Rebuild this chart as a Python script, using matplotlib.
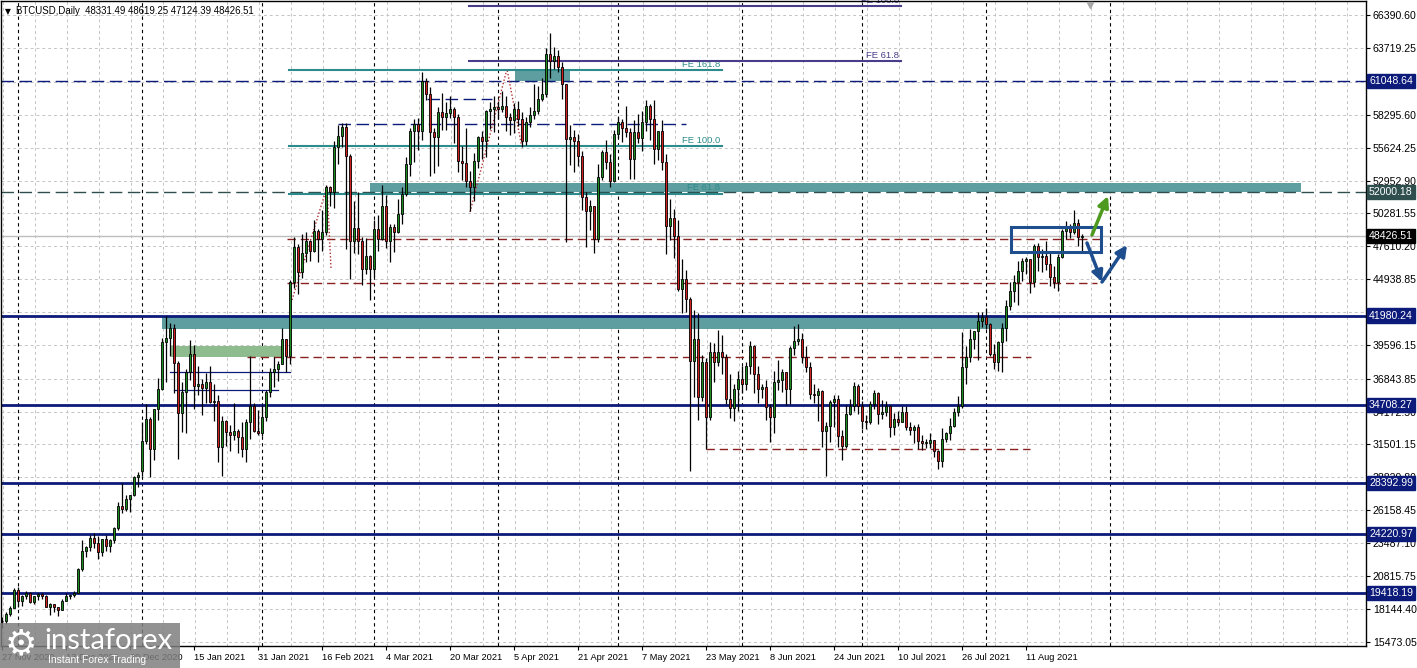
import numpy as np
import matplotlib
matplotlib.use("Agg")
import matplotlib.pyplot as plt
from matplotlib.patches import Rectangle
import matplotlib.transforms as mtransforms

# ---- daily bars (open, high, low, close), 27 Nov 2020 .. 25 Aug 2021, 1 Jan missing ----
nov_2020 = [
    (17150, 17460, 16560, 17110), (17110, 17850, 16900, 17720),
    (17720, 18330, 17530, 18180), (18180, 19860, 18170, 19700),
]
dec_2020 = [
    (19700, 19920, 18320, 18760), (18760, 19300, 18330, 19200), (19200, 19550, 18950, 19440),
    (19440, 19500, 18590, 18700), (18700, 19160, 18510, 19150), (19150, 19420, 18860, 19360),
    (19360, 19390, 18930, 19170), (19170, 19280, 18270, 18320), (18320, 18640, 17650, 18550),
    (18550, 18560, 17910, 18250), (18250, 18280, 17580, 18040), (18040, 18940, 18020, 18800),
    (18800, 19400, 18740, 19140), (19140, 19300, 18920, 19250), (19250, 19560, 19070, 19440),
    (19440, 21450, 19400, 21350), (21350, 23770, 21250, 22800), (22800, 23240, 22380, 23130),
    (23130, 24150, 22860, 23870), (23870, 24280, 23070, 23480), (23480, 24090, 22160, 22720),
    (22720, 23840, 22400, 23820), (23820, 24100, 22800, 23240), (23240, 23780, 22760, 23730),
    (23730, 24790, 23460, 24710), (24710, 26860, 24520, 26490), (26490, 28400, 25960, 26280),
    (26280, 27400, 26100, 27080), (27080, 27370, 25990, 27360), (27360, 28900, 27300, 28840),
    (28840, 29300, 28000, 29000),
]
jan_2021 = [
    (29380, 33300, 28950, 31790), (31790, 34780, 31500, 33570), (33570, 33730, 28860, 31140),
    (31140, 34410, 30220, 34390), (34390, 36880, 33510, 36010), (36010, 40180, 35900, 39830),
    (39830, 41940, 36570, 40150), (40150, 41380, 38720, 40970), (40970, 41300, 35700, 38120),
    (38120, 38260, 30320, 34060), (34060, 36600, 32540, 35770), (35770, 37620, 32400, 37390),
    (37390, 40000, 36700, 38850), (38850, 39580, 34400, 36250), (36250, 37880, 35560, 36400),
    (36400, 36800, 33860, 36100), (36100, 37300, 34860, 36580), (36580, 37850, 34900, 34950),
    (34950, 36400, 33400, 35030), (35030, 35550, 30070, 31300), (31300, 33830, 28950, 33410),
    (33410, 33450, 31390, 32520), (32520, 33070, 30970, 32300), (32300, 34880, 31900, 32600),
    (32600, 32790, 30840, 32100), (32100, 33330, 30440, 31140), (31140, 33580, 30070, 33330),
    (33330, 38690, 31980, 34630), (34630, 34860, 32500, 32600), (32600, 34340, 32250, 32400),
]
feb_2021 = [
    (32400, 34690, 32200, 33730), (33730, 35900, 33440, 35770), (35770, 37700, 35380, 37390),
    (37390, 38620, 36200, 37600), (37600, 38310, 36670, 38040), (38040, 40960, 38000, 40070),
    (40070, 40100, 37400, 38690), (38690, 44900, 38060, 44700), (44700, 48350, 44200, 47540),
    (47540, 47800, 43760, 45510), (45510, 48630, 45000, 47050), (47050, 48790, 46300, 48020),
    (48020, 48100, 46450, 47220), (47220, 49740, 47120, 48840), (48840, 49020, 46370, 48200),
    (48200, 50540, 47230, 48760), (48760, 52560, 48500, 52420), (52420, 52480, 50900, 52010),
    (52010, 56200, 50760, 55670), (55670, 57490, 54300, 56560), (56560, 57620, 55650, 57290),
    (57290, 57620, 47380, 54940), (54940, 55100, 44940, 48030), (48030, 51300, 47060, 49100),
    (49100, 52000, 46960, 48030), (48030, 48370, 44450, 45760), (45760, 48250, 45350, 46820),
    (46820, 46900, 43240, 45760),
]
mar_2021 = [
    (45760, 49780, 45100, 49010), (49010, 50130, 47230, 48200), (48200, 52620, 48150, 50870),
    (50870, 51740, 47500, 48030), (48030, 49390, 46300, 49170), (49170, 49400, 47150, 48760),
    (48760, 51420, 48700, 50230), (50230, 52430, 49420, 51850), (51850, 54900, 51700, 54290),
    (54290, 57260, 53290, 56970), (56970, 57990, 54480, 57540), (57540, 58010, 55430, 56970),
    (56970, 61760, 56220, 61030), (61030, 61300, 59500, 59970), (59970, 60540, 53310, 56890),
    (56890, 57200, 53570, 56480), (56480, 58960, 54150, 58510), (58510, 60110, 57100, 58100),
    (58100, 59370, 57090, 58430), (58430, 59850, 58020, 58760), (58760, 58900, 55980, 58100),
    (58100, 58390, 53690, 54530), (54530, 55740, 53000, 54370), (54370, 57200, 52460, 52910),
    (52910, 53720, 50470, 52420), (52420, 55230, 51300, 54530), (54530, 56600, 53950, 56480),
    (56480, 57000, 54690, 56200), (56200, 58700, 54900, 58590), (58590, 59380, 57150, 58760),
    (58760, 59800, 56870, 58920),
]
apr_2021 = [
    (58920, 59460, 57960, 58760), (58760, 60210, 58500, 59000), (59000, 59790, 56960, 58100),
    (58100, 58480, 56630, 57900), (57900, 59220, 56790, 58760), (58760, 59400, 57350, 57940),
    (57940, 58520, 55660, 56160), (56160, 58110, 55850, 57700), (57700, 58940, 57300, 58300),
    (58300, 60800, 57930, 58590), (58590, 60610, 58400, 59570), (59570, 61300, 59400, 59970),
    (59970, 63750, 59760, 63220), (63220, 64930, 61300, 62650), (62650, 63820, 62030, 63060),
    (63060, 63590, 61800, 62170), (62170, 62580, 59620, 60790), (60790, 60800, 47950, 56320),
    (56320, 57500, 54240, 56500), (56500, 57080, 53610, 56160), (56160, 56760, 54125, 54940),
    (54940, 55370, 50580, 51610), (51610, 52040, 47545, 50470), (50470, 51400, 48910, 50880),
    (50880, 50900, 47050, 48200), (48200, 54330, 47950, 53230), (53230, 55430, 53000, 55260),
    (55260, 56230, 53900, 54450), (54450, 55140, 52400, 52910), (52910, 57100, 52800, 56720),
]
may_2021 = [
    (56720, 58100, 56400, 57700), (57700, 57950, 56080, 57200), (57200, 58980, 56480, 56890),
    (56890, 57210, 53110, 54690), (54690, 57900, 53060, 56890), (56890, 58330, 55980, 56400),
    (56400, 58620, 55350, 57700), (57700, 59490, 56990, 59000), (59000, 59180, 56280, 57940),
    (57940, 59540, 54310, 55500), (55500, 57000, 54620, 56970), (56970, 57900, 53800, 54450),
    (54450, 55100, 46980, 49250), (49250, 51440, 48100, 49880), (49880, 50640, 46660, 48440),
    (48440, 49720, 43960, 44130), (44130, 46540, 42210, 44940), (44940, 45700, 42260, 43320),
    (43320, 43500, 29350, 38280), (38280, 42470, 35350, 40070), (40070, 42200, 33500, 35360),
    (35360, 38780, 35000, 38200), (38200, 38500, 31140, 33740), (33740, 39830, 33500, 39020),
    (39020, 39760, 36580, 38200), (38200, 40800, 37870, 39000), (39000, 40380, 37250, 38600),
    (38600, 38860, 34800, 35200), (35200, 37240, 33680, 34500), (34500, 36400, 33420, 36010),
    (36010, 37470, 34250, 36820),
]
jun_2021 = [
    (36820, 37860, 35700, 36420), (36420, 38200, 35950, 37880), (37880, 39900, 37220, 39500),
    (39500, 39600, 35700, 37230), (37230, 37880, 34850, 36010), (36010, 36450, 35270, 36170),
    (36170, 36780, 33510, 34540), (34540, 34800, 31700, 33740), (33740, 37510, 32400, 36580),
    (36580, 38360, 35960, 36700), (36700, 37610, 35750, 37360), (37360, 37400, 34700, 36010),
    (36010, 39500, 34800, 39340), (39340, 41130, 38800, 39900), (39900, 41300, 39600, 40070),
    (40070, 40520, 38100, 38610), (38610, 39530, 37400, 37790), (37790, 38190, 35200, 35600),
    (35600, 36430, 34850, 35500), (35500, 36080, 33400, 35850), (35850, 35900, 31300, 32600),
    (32600, 33300, 28940, 33000), (33000, 35100, 31700, 34950), (34950, 35500, 32900, 35200),
    (35200, 35500, 31300, 32190), (32190, 32700, 30200, 31380), (31380, 34700, 31200, 34000),
    (34000, 35200, 33900, 34630), (34630, 36550, 34230, 36250), (36250, 36400, 34000, 34630),
]
jul_2021 = [
    (34630, 35040, 32730, 33410), (33410, 33930, 32750, 33300), (33300, 35000, 33200, 34790),
    (34790, 35900, 34400, 35680), (35680, 35800, 33170, 33980), (33980, 35100, 33540, 34100),
    (34100, 35050, 33800, 34600), (34600, 34700, 32100, 32920), (32920, 34080, 32260, 33600),
    (33600, 34250, 33020, 33350), (33350, 34590, 33300, 34130), (34130, 34650, 32700, 32920),
    (32920, 33330, 32250, 32700), (32700, 33090, 31600, 32950), (32950, 33160, 31150, 31780),
    (31780, 32230, 31050, 31600), (31600, 31940, 31200, 31650), (31650, 32400, 31220, 31850),
    (31850, 31880, 30440, 30970), (30970, 31040, 29510, 30160), (30160, 32820, 29700, 31950),
    (31950, 32530, 31730, 32400), (32400, 33620, 31840, 33000), (33000, 34460, 32900, 34140),
    (34140, 35400, 33850, 34630), (34630, 40640, 34500, 37790), (37790, 39500, 36400, 38600),
    (38600, 40880, 38200, 40070), (40070, 40600, 39270, 40720), (40720, 42290, 38350, 41530),
    (41530, 42300, 41080, 41900),
]
aug_2021 = [
    (41900, 42600, 40900, 41290), (41290, 41400, 38700, 38850), (38850, 39700, 37640, 38200),
    (38200, 39950, 37510, 39830), (39830, 41380, 37350, 40970), (40970, 43250, 39930, 42750),
    (42750, 44690, 42450, 43970), (43970, 45290, 43100, 44700), (44700, 46430, 42800, 45600),
    (45600, 46640, 44750, 46400), (46400, 46780, 45350, 46550), (46550, 46600, 43800, 44700),
    (44700, 47800, 44300, 47630), (47630, 47900, 45600, 46740), (46740, 47350, 45550, 46800),
    (46800, 48000, 45700, 46170), (46170, 47200, 44410, 45110), (45110, 46000, 44200, 44700),
    (44700, 47000, 43960, 46740), (46740, 49000, 46620, 48850), (48850, 49680, 48240, 49100),
    (49100, 49400, 48260, 48770), (48770, 50580, 48600, 49500), (49500, 49840, 47630, 48330),
    (48331.49, 48619.25, 47124.39, 48426.51),
]

date_labels = ["27 Nov 2020", "13 Dec 2020", "29 Dec 2020", "15 Jan 2021", "31 Jan 2021",
               "16 Feb 2021", "4 Mar 2021", "20 Mar 2021", "5 Apr 2021", "21 Apr 2021",
               "7 May 2021", "23 May 2021", "8 Jun 2021", "24 Jun 2021", "10 Jul 2021",
               "26 Jul 2021", "11 Aug 2021"]
month_starts = [4, 35, 65, 93, 124, 154, 185, 215, 246, 277]   # bar index of 1st bar of month
price_ticks = [66390.60, 63719.25, 60966.95, 58295.60, 55624.25, 52952.90, 50281.55, 47610.20,
               44938.85, 42267.50, 39596.15, 36843.85, 34172.50, 31501.15, 28829.80, 26158.45,
               23487.10, 20815.75, 18144.40, 15473.05]
hidden_ticks = [60966.95, 42267.50]   # covered by the level tags on the scale

support_levels = [41980.24, 34708.27, 28392.99, 24220.97, 19418.19]
top_level = 61048.64
zone_level = 52000.18
last_price = 48426.51

# annotation objects (bar index / price)
teal_zones = [(40, 251.5, 40900, 41980.24), (92, 324.75, 52000.18, 52757), (128.25, 142, 61048.64, 62025)]
green_zone = (42.25, 70, 38610, 39505)
fe_teal = [(61943, "FE 161.8"), (55765, "FE 100.0"), (51880, "FE 61.8")]
fe_teal_span = (71.75, 180)
fe_slate = [(62675, "FE 61.8"), (67147, "FE 100.0")]
fe_slate_span = (116.75, 224.75)
red_dashed = [(48203, 71.25, 274.5), (44626, 71.25, 273.75), (38610, 61.25, 257.25), (31100, 176, 257)]
navy_dashed = [(57553, 84, 171), (59586, 106.25, 122.5)]
navy_thin = [(37390, 42, 72), (35927, 43, 69)]
fib_path1 = ([72.5, 81.25, 82.25], [43245, 52432, 45846])
fib_path2 = ([117, 126.25, 130], [50399, 62025, 55602])
box = (252.25, 274.75, 47146, 49178)
green_arrow = ((272.5, 48528), (276.5, 51699))
blue_arrows = [((271.25, 47878), (275, 44707)), ((275, 44707), (281.25, 47715))]

NAVY = "#0c1a7a"
TEAL = "#2e8b8b"
ZONE = "#5f9ea0"
DRED = "#8b2020"
SLATE = "#483d8b"
BOXBLUE = "#1f4e8f"
FONT = ["Liberation Sans Narrow", "Liberation Sans", "DejaVu Sans"]

W, H = 1417, 668
fig = plt.figure(figsize=(W / 100, H / 100), dpi=100)
ax = fig.add_axes([1 / W, 22 / H, 1365 / W, 645 / H])
ax.set_xlim(-0.25, 341)
ax.set_ylim(15113, 67553)

bars = np.array(nov_2020 + dec_2020 + jan_2021 + feb_2021 + mar_2021 + apr_2021
                + may_2021 + jun_2021 + jul_2021 + aug_2021, dtype=float)
o, h, l, c = bars.T
idx = np.arange(len(bars))

# grid
for p in price_ticks:
    ax.axhline(p, color="#c4c4c4", lw=0.7, ls=(0, (3, 3)), zorder=0)
for k in range(0, 342, 8):
    ax.axvline(k + 0.25, color="#c4c4c4", lw=0.7, ls=(0, (3, 3)), zorder=0)
for m in month_starts:
    ax.axvline(m, color="black", lw=0.8, ls=(0, (3, 3)), zorder=0.5)

# zones
for x0, x1, p0, p1 in teal_zones:
    ax.add_patch(Rectangle((x0, p0), x1 - x0, p1 - p0, fc=ZONE, ec="none", zorder=1))
ax.add_patch(Rectangle((green_zone[0], green_zone[2]), green_zone[1] - green_zone[0],
                       green_zone[3] - green_zone[2], fc="#8fbc8f", ec="none", zorder=1))

# horizontal levels
for p in support_levels:
    ax.axhline(p, color=NAVY, lw=2, zorder=2)
ax.axhline(top_level, color=NAVY, lw=1, ls=(0, (9, 4)), zorder=2)
ax.axhline(zone_level, color="#2f4f4f", lw=1, ls=(0, (9, 4)), zorder=2)
ax.axhline(last_price, color="#bdbdbd", lw=1, zorder=1.5)
for p, x0, x1 in red_dashed:
    ax.plot([x0, x1], [p, p], color=DRED, lw=1, ls=(0, (6, 3.5)), zorder=2)
for p, x0, x1 in navy_dashed:
    ax.plot([x0, x1], [p, p], color=NAVY, lw=1, ls=(0, (9, 4)), zorder=2)
for p, x0, x1 in navy_thin:
    ax.plot([x0, x1], [p, p], color=NAVY, lw=0.9, zorder=2)
ax.plot(*fib_path1, color="#b03030", lw=1, ls=(0, (1, 1.5)), zorder=2)
ax.plot(*fib_path2, color="#b03030", lw=1, ls=(0, (1, 1.5)), zorder=2)

# fibonacci expansion levels
for p, lab in fe_teal:
    ax.plot(fe_teal_span, [p, p], color=TEAL, lw=1.5, zorder=2)
    ax.text(fe_teal_span[1] - 0.5, p + 120, lab, color=TEAL, fontsize=6.8, ha="right",
            va="bottom", family=FONT, zorder=2)
for p, lab in fe_slate:
    ax.plot(fe_slate_span, [p, p], color=SLATE, lw=1.5, zorder=2)
    ax.text(fe_slate_span[1] - 0.5, p + 120, lab, color=SLATE, fontsize=6.8, ha="right",
            va="bottom", family=FONT, zorder=2)

# candles
up = c >= o
body_lo = np.minimum(o, c)
body_h = np.maximum(np.abs(c - o), 70)
ax.vlines(idx, l, h, color="black", lw=0.9, zorder=5)
ax.bar(idx[up], body_h[up], bottom=body_lo[up], width=0.62, color="#1e8c1e",
       edgecolor="black", lw=0.6, zorder=6)
ax.bar(idx[~up], body_h[~up], bottom=body_lo[~up], width=0.62, color="#d02020",
       edgecolor="black", lw=0.6, zorder=6)

# box and arrows
ax.add_patch(Rectangle((box[0], box[2]), box[1] - box[0], box[3] - box[2], fill=False,
                       ec=BOXBLUE, lw=2.2, zorder=8))
ax.annotate("", xy=green_arrow[1], xytext=green_arrow[0], zorder=9,
            arrowprops=dict(arrowstyle="-|>", color="#4e9a1e", lw=2.5, mutation_scale=16,
                            shrinkA=0, shrinkB=0))
for a, b in blue_arrows:
    ax.annotate("", xy=b, xytext=a, zorder=9,
                arrowprops=dict(arrowstyle="-|>", color=BOXBLUE, lw=2.5, mutation_scale=16,
                                shrinkA=0, shrinkB=0))
ax.plot([272], [67228], marker="v", color="#a8a8a8", ms=5, zorder=9, clip_on=False)

# axes look
for s in ax.spines.values():
    s.set_color("black")
    s.set_linewidth(1)
ax.yaxis.tick_right()
ax.set_yticks(price_ticks)
ax.set_yticklabels(["" if p in hidden_ticks else f"{p:.2f}" for p in price_ticks],
                   fontsize=7.6, family=FONT)
ax.set_xticks(np.arange(0, 257, 16))
ax.set_xticklabels(date_labels, fontsize=6.7, family=FONT, ha="left")
ax.tick_params(axis="y", length=3, width=0.8, pad=2)
ax.tick_params(axis="x", length=3, width=0.8, pad=2)

# coloured price labels on the scale
trans = mtransforms.blended_transform_factory(ax.transAxes, ax.transData)
price_tags = [(top_level, NAVY)] + [(zone_level, "#2f4f4f"), (last_price, "black")] + \
             [(p, NAVY) for p in support_levels]
for p, col in price_tags:
    ax.text(1.0022, p, f"{p:.2f}", transform=trans, fontsize=7.6, family=FONT, color="white",
            va="center", ha="left", clip_on=False, zorder=20,
            bbox=dict(boxstyle="square,pad=0.2", fc=col, ec=col))

# header
ax.text(0.003, 0.984, "\u25bc", transform=ax.transAxes, fontsize=5.5, va="center",
        family=["DejaVu Sans"], zorder=20)
ax.text(0.011, 0.984, "BTCUSD,Daily  48331.49 48619.25 47124.39 48426.51",
        transform=ax.transAxes, fontsize=6.9, va="center", family=FONT, zorder=20)

# watermark logo
fig.add_artist(Rectangle((0, 0), 180 / W, 45 / H, transform=fig.transFigure,
                         fc="#7f7f7f", ec="none", alpha=0.85, zorder=30))
fig.text(5 / W, 24 / H, "\u2699", color="white", fontsize=26, va="center",
         family=["DejaVu Sans"], zorder=31)
fig.text(44 / W, 27 / H, "instaforex", color="white", fontsize=21, va="center",
         family=["Lato", "DejaVu Sans"], zorder=31)
fig.text(48 / W, 8 / H, "Instant Forex Trading", color="white", fontsize=7.5, va="center",
         family=FONT, zorder=31)

fig.savefig("out.png", dpi=100)
